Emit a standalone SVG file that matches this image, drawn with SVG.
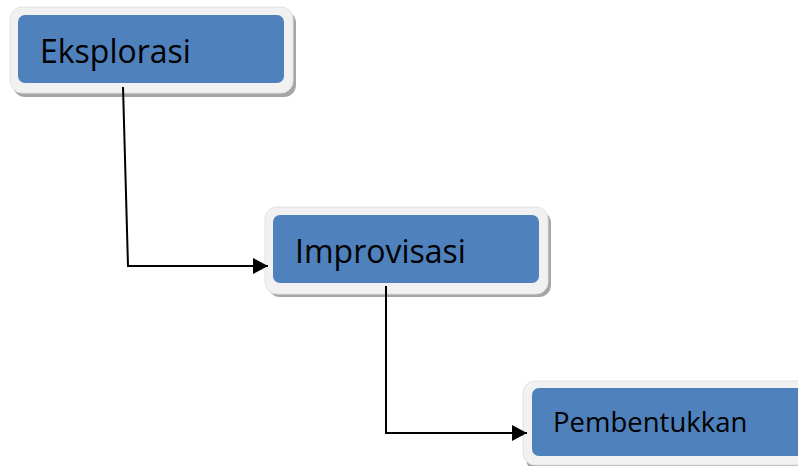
<svg xmlns="http://www.w3.org/2000/svg" width="798" height="466" viewBox="0 0 798 466">
<defs>
<marker id="arr" markerWidth="16" markerHeight="16" refX="15" refY="8" orient="auto" markerUnits="userSpaceOnUse">
<path d="M0,0 L15,8 L0,16 Z" fill="#000"/>
</marker>
</defs>
<style>
.shadow{fill:#a6a6a6;}
.frame{fill:#f1f1f1;stroke:#e2e2e2;stroke-width:1;}
.box{fill:#4f81bd;}
.lbl{font-family:"Open Sans","Liberation Sans",sans-serif;fill:#000;}
.conn{fill:none;stroke:#000;stroke-width:2;}
</style>
<rect width="798" height="466" fill="#fff"/>
<g id="eksplorasi">
<rect class="shadow" x="13" y="11" width="283" height="86" rx="12"/>
<rect class="frame" x="10" y="7" width="283" height="86" rx="12"/>
<rect class="box" x="18" y="15" width="266" height="68" rx="7"/>
<text class="lbl" x="40" y="63" font-size="32">Eksplorasi</text>
</g>
<g id="improvisasi">
<rect class="shadow" x="268" y="211" width="283" height="86" rx="12"/>
<rect class="frame" x="265" y="207" width="283" height="87" rx="12"/>
<rect class="box" x="273" y="215" width="266" height="68" rx="7"/>
<text class="lbl" x="295" y="263" font-size="32">Improvisasi</text>
</g>
<g id="pembentukkan">
<rect class="shadow" x="526" y="385" width="290" height="86" rx="12"/>
<rect class="frame" x="523" y="381" width="290" height="84" rx="12"/>
<rect class="box" x="532" y="388" width="275" height="68" rx="7"/>
<text class="lbl" x="553" y="432" font-size="27.5">Pembentukkan</text>
</g>
<g id="connectors">
<path class="conn" d="M123,87 L128,266 L268,266" marker-end="url(#arr)"/>
<path class="conn" d="M386,286 L386,433 L527,433" marker-end="url(#arr)"/>
</g>
</svg>
